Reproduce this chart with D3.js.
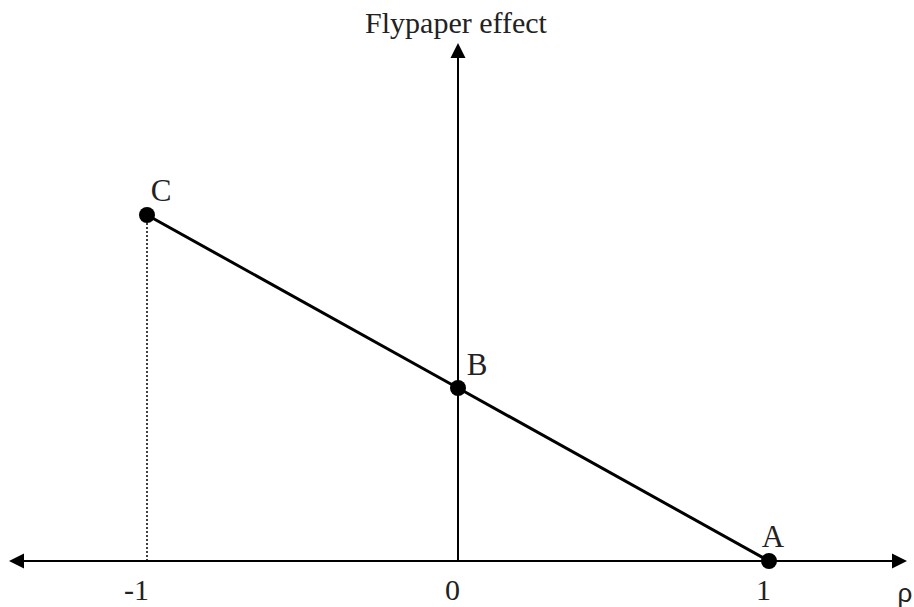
<!DOCTYPE html>
<html>
<head>
<meta charset="utf-8">
<script src="https://cdn.jsdelivr.net/npm/d3@7"></script>
<style>
  html, body { margin: 0; padding: 0; background: #fff; }
  svg { display: block; }
  .serif { font-family: "Liberation Serif", "Times New Roman", serif; fill: #222; }
</style>
</head>
<body>
<div id="chart"></div>
<script>
// rho values and flypaper effect at the three labelled points
const pointNames = ["C", "B", "A"];
const rhoValues = [-1, 0, 1];
const effectValues = [2, 1, 0];
const tickLabels = ["-1", "0", "1"];

const width = 914, height = 607;

const svg = d3.select("#chart").append("svg")
  .attr("width", width)
  .attr("height", height);

const x = d3.scaleLinear().domain([-1, 1]).range([147, 769]);
const y = d3.scaleLinear().domain([0, 2]).range([561, 215]);

const axisLeft = 9, axisRight = 907, axisTop = 43;
const arrowLen = 15, arrowHalf = 7.5;

// horizontal axis with arrows both ends
svg.append("line")
  .attr("x1", axisLeft + 4).attr("x2", axisRight - 4)
  .attr("y1", y(0)).attr("y2", y(0))
  .attr("stroke", "#000").attr("stroke-width", 2);

svg.append("path")
  .attr("d", `M${axisLeft},${y(0)} L${axisLeft + arrowLen},${y(0) - arrowHalf} L${axisLeft + arrowLen},${y(0) + arrowHalf} Z`)
  .attr("fill", "#000");
svg.append("path")
  .attr("d", `M${axisRight},${y(0)} L${axisRight - arrowLen},${y(0) - arrowHalf} L${axisRight - arrowLen},${y(0) + arrowHalf} Z`)
  .attr("fill", "#000");

// vertical axis
svg.append("line")
  .attr("x1", x(0)).attr("x2", x(0))
  .attr("y1", y(0)).attr("y2", axisTop + 4)
  .attr("stroke", "#000").attr("stroke-width", 2);
svg.append("path")
  .attr("d", `M${x(0)},${axisTop} L${x(0) - arrowHalf},${axisTop + arrowLen} L${x(0) + arrowHalf},${axisTop + arrowLen} Z`)
  .attr("fill", "#000");

const points = pointNames.map((n, i) => ({ name: n, rho: rhoValues[i], effect: effectValues[i] }));

// dotted drop line from C
svg.append("line")
  .attr("x1", x(points[0].rho)).attr("x2", x(points[0].rho))
  .attr("y1", y(points[0].effect)).attr("y2", y(0))
  .attr("stroke", "#000").attr("stroke-width", 1.5)
  .attr("stroke-dasharray", "2,2");

// main line
svg.append("path")
  .datum(points)
  .attr("d", d3.line().x(d => x(d.rho)).y(d => y(d.effect)))
  .attr("fill", "none")
  .attr("stroke", "#000")
  .attr("stroke-width", 3);

svg.append("g")
  .selectAll("circle")
  .data(points)
  .join("circle")
  .attr("cx", d => x(d.rho))
  .attr("cy", d => y(d.effect))
  .attr("r", 8)
  .attr("fill", "#000");

const labelOffset = { C: [14, -14], B: [19, -13], A: [4, -14] };
svg.append("g")
  .selectAll("text")
  .data(points)
  .join("text")
  .attr("class", "serif")
  .attr("x", d => x(d.rho) + labelOffset[d.name][0])
  .attr("y", d => y(d.effect) + labelOffset[d.name][1])
  .attr("font-size", 31)
  .attr("text-anchor", "middle")
  .text(d => d.name);

// tick labels
svg.append("g")
  .selectAll("text")
  .data(rhoValues)
  .join("text")
  .attr("class", "serif")
  .attr("x", d => x(d) + 2)
  .attr("y", 600)
  .attr("font-size", 30)
  .attr("text-anchor", "end")
  .text((d, i) => tickLabels[i]);

svg.append("text")
  .attr("class", "serif")
  .attr("x", 456)
  .attr("y", 33)
  .attr("font-size", 30)
  .attr("text-anchor", "middle")
  .text("Flypaper effect");

svg.append("text")
  .attr("x", 905)
  .attr("y", 602)
  .attr("font-family", "Liberation Sans, Arial, sans-serif")
  .attr("font-size", 26)
  .attr("fill", "#222")
  .attr("text-anchor", "middle")
  .text("ρ");
</script>
</body>
</html>
